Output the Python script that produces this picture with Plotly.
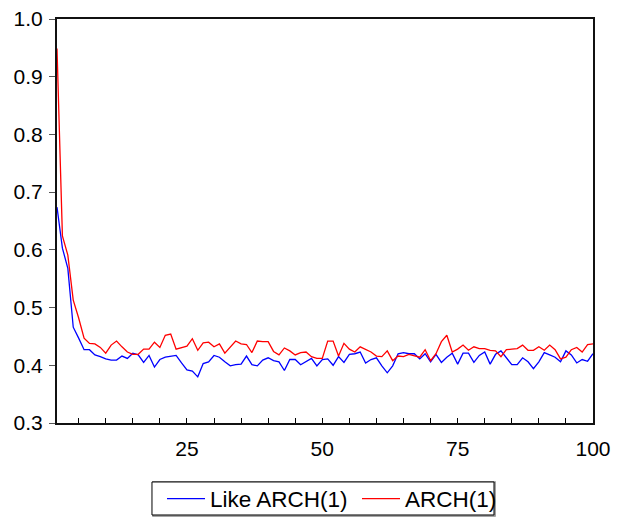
import plotly.graph_objects as go

x_index = list(range(1, 101))

like_arch = [
    0.674, 0.603, 0.568, 0.466, 0.447, 0.427, 0.427, 0.418, 0.415, 0.411,
    0.409, 0.409, 0.416, 0.412, 0.421, 0.418, 0.405, 0.417, 0.397, 0.410,
    0.414, 0.416, 0.417, 0.404, 0.392, 0.390, 0.380, 0.403, 0.406, 0.417,
    0.414, 0.406, 0.399, 0.401, 0.402, 0.416, 0.401, 0.399, 0.409, 0.413,
    0.408, 0.406, 0.391, 0.410, 0.410, 0.401, 0.407, 0.412, 0.399, 0.410,
    0.411, 0.400, 0.415, 0.405, 0.419, 0.420, 0.423, 0.404, 0.410, 0.413,
    0.399, 0.387, 0.399, 0.420, 0.422, 0.420, 0.420, 0.411, 0.420, 0.406,
    0.419, 0.405, 0.414, 0.421, 0.402, 0.421, 0.421, 0.405, 0.417, 0.423,
    0.402, 0.419, 0.425, 0.412, 0.401, 0.401, 0.413, 0.406, 0.394, 0.406,
    0.422, 0.418, 0.414, 0.406, 0.425, 0.418, 0.404, 0.410, 0.407, 0.420,
]

arch = [
    0.949, 0.624, 0.591, 0.513, 0.482, 0.447, 0.438, 0.437, 0.431, 0.421,
    0.435, 0.442, 0.432, 0.423, 0.419, 0.419, 0.428, 0.428, 0.440, 0.431,
    0.452, 0.454, 0.428, 0.430, 0.433, 0.446, 0.426, 0.439, 0.440, 0.432,
    0.437, 0.421, 0.432, 0.442, 0.437, 0.436, 0.422, 0.442, 0.441, 0.441,
    0.424, 0.418, 0.430, 0.425, 0.418, 0.422, 0.423, 0.415, 0.412, 0.412,
    0.442, 0.442, 0.416, 0.438, 0.428, 0.423, 0.432, 0.427, 0.423, 0.416,
    0.415, 0.425, 0.408, 0.416, 0.415, 0.419, 0.416, 0.414, 0.427, 0.408,
    0.420, 0.441, 0.452, 0.423, 0.428, 0.435, 0.426, 0.432, 0.429, 0.429,
    0.426, 0.425, 0.415, 0.427, 0.428, 0.429, 0.435, 0.426, 0.426, 0.432,
    0.426, 0.435, 0.427, 0.411, 0.414, 0.427, 0.431, 0.423, 0.436, 0.437,
]

x_ticks = [25, 50, 75, 100]
y_ticks = [0.3, 0.4, 0.5, 0.6, 0.7, 0.8, 0.9, 1.0]

fig = go.Figure()
fig.add_trace(go.Scatter(x=x_index, y=like_arch, mode="lines", name="Like ARCH(1)",
                         line=dict(color="#0000FF", width=1.3)))
fig.add_trace(go.Scatter(x=x_index, y=arch, mode="lines", name="ARCH(1)",
                         line=dict(color="#FF0000", width=1.3)))

font = dict(family="Liberation Sans, Arial, sans-serif", size=21, color="#000000")
legend_font = dict(family="Liberation Sans, Arial, sans-serif", size=22.5, color="#000000")

# legend frame (drawn as a shape so its size matches the original box)
fig.add_shape(type="rect", xref="paper", yref="paper",
              x0=0.1791, x1=0.8172, y0=-0.2302, y1=-0.1460,
              line=dict(color="#888888", width=1.5), fillcolor="rgba(0,0,0,0)")
fig.add_shape(type="rect", xref="paper", yref="paper",
              x0=0.1772, x1=0.8153, y0=-0.2277, y1=-0.1460,
              line=dict(color="#000000", width=1), fillcolor="white")

fig.update_layout(
    width=629, height=521,
    margin=dict(l=57, r=36, t=19, b=98),
    paper_bgcolor="white", plot_bgcolor="white",
    font=font,
    showlegend=True,
    legend=dict(orientation="h", x=0.1959, xanchor="left",
                yref="container", y=0.0422, yanchor="middle",
                borderwidth=0, bgcolor="rgba(0,0,0,0)", font=legend_font,
                itemwidth=38, entrywidth=142, entrywidthmode="pixels",
                tracegroupgap=0),
    xaxis=dict(range=[1, 100], tickvals=x_ticks, ticks="inside", ticklen=5,
               tickcolor="#000", showgrid=False, zeroline=False, automargin=False,
               showline=True, linecolor="#111", linewidth=2, mirror=True,
               minor=dict(dtick=5, tick0=0, ticks="inside", ticklen=5, tickcolor="#000"),
               ticklabelstandoff=6),
    yaxis=dict(range=[0.3, 1.0], tickvals=y_ticks, tickformat=".1f", ticks="outside",
               ticklen=6, tickcolor="#555", showgrid=False, zeroline=False, automargin=False,
               showline=True, linecolor="#111", linewidth=2, mirror=True,
               ticklabelstandoff=2),
)

fig.write_html("out.html", config={"displayModeBar": False},
               post_script="document.body.style.margin='0px';document.body.style.overflow='hidden';")
